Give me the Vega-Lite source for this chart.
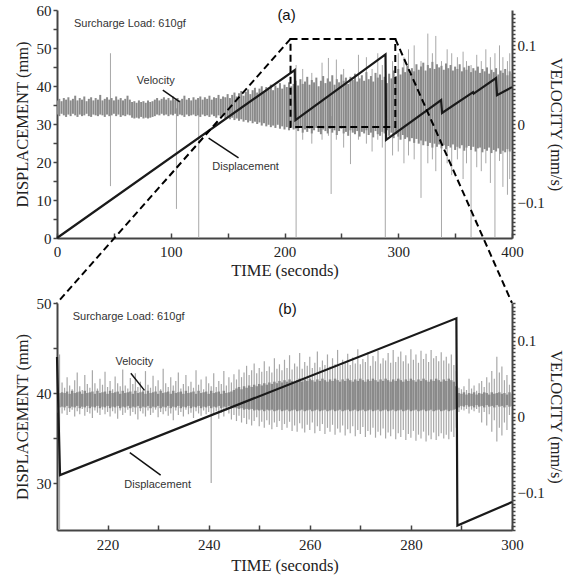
{
"$schema": "https://vega.github.io/schema/vega-lite/v6.json",
"padding": {"left": 14, "top": 3, "right": 4, "bottom": 4},
"bounds": "flush",
"spacing": 65,
"config": {
  "view": {"stroke": null},
  "axis": {"labelFont": "Liberation Serif", "titleFont": "Liberation Serif", "labelFontSize": 15, "titleFontSize": 16.5, "titleFontWeight": "normal", "labelColor": "#222", "titleColor": "#222", "domainColor": "#444", "domainWidth": 2, "tickColor": "#444", "tickWidth": 1.5, "grid": false, "labelOverlap": false, "labelFlush": false}
},
"datasets": {
  "coreA": [
    {"t":0,"hi":0.030,"lo":0.012},{"t":2,"hi":0.032,"lo":0.010},{"t":4,"hi":0.029,"lo":0.013},{"t":6,"hi":0.033,"lo":0.011},{"t":8,"hi":0.031,"lo":0.009},{"t":10,"hi":0.034,"lo":0.012},{"t":12,"hi":0.030,"lo":0.010},{"t":14,"hi":0.032,"lo":0.013},{"t":16,"hi":0.036,"lo":0.011},{"t":18,"hi":0.030,"lo":0.009},
    {"t":20,"hi":0.033,"lo":0.012},{"t":22,"hi":0.031,"lo":0.010},{"t":24,"hi":0.035,"lo":0.011},{"t":26,"hi":0.029,"lo":0.013},{"t":28,"hi":0.032,"lo":0.010},{"t":30,"hi":0.034,"lo":0.009},{"t":32,"hi":0.030,"lo":0.012},{"t":34,"hi":0.033,"lo":0.011},{"t":36,"hi":0.031,"lo":0.010},{"t":38,"hi":0.037,"lo":0.012},
    {"t":40,"hi":0.030,"lo":0.011},{"t":42,"hi":0.032,"lo":0.009},{"t":44,"hi":0.034,"lo":0.012},{"t":46,"hi":0.031,"lo":0.010},{"t":48,"hi":0.033,"lo":0.011},{"t":50,"hi":0.030,"lo":0.013},{"t":52,"hi":0.035,"lo":0.010},{"t":54,"hi":0.031,"lo":0.012},{"t":56,"hi":0.033,"lo":0.009},{"t":58,"hi":0.030,"lo":0.011},
    {"t":60,"hi":0.032,"lo":0.010},{"t":62,"hi":0.036,"lo":0.012},{"t":64,"hi":0.031,"lo":0.011},{"t":66,"hi":0.028,"lo":0.008},{"t":68,"hi":0.029,"lo":0.007},{"t":70,"hi":0.027,"lo":0.008},{"t":72,"hi":0.030,"lo":0.007},{"t":74,"hi":0.028,"lo":0.009},{"t":76,"hi":0.029,"lo":0.007},{"t":78,"hi":0.027,"lo":0.008},
    {"t":80,"hi":0.030,"lo":0.007},{"t":82,"hi":0.028,"lo":0.008},{"t":84,"hi":0.029,"lo":0.009},{"t":86,"hi":0.031,"lo":0.010},{"t":88,"hi":0.033,"lo":0.012},{"t":90,"hi":0.030,"lo":0.011},{"t":92,"hi":0.032,"lo":0.013},{"t":94,"hi":0.034,"lo":0.011},{"t":96,"hi":0.031,"lo":0.012},{"t":98,"hi":0.033,"lo":0.010},
    {"t":100,"hi":0.030,"lo":0.012},{"t":102,"hi":0.035,"lo":0.011},{"t":104,"hi":0.031,"lo":0.013},{"t":106,"hi":0.033,"lo":0.010},{"t":108,"hi":0.030,"lo":0.012},{"t":110,"hi":0.032,"lo":0.011},{"t":112,"hi":0.036,"lo":0.009},{"t":114,"hi":0.031,"lo":0.012},{"t":116,"hi":0.033,"lo":0.010},{"t":118,"hi":0.030,"lo":0.011},
    {"t":120,"hi":0.034,"lo":0.012},{"t":122,"hi":0.031,"lo":0.010},{"t":124,"hi":0.033,"lo":0.011},{"t":126,"hi":0.035,"lo":0.009},{"t":128,"hi":0.031,"lo":0.012},{"t":130,"hi":0.034,"lo":0.010},{"t":132,"hi":0.032,"lo":0.011},{"t":134,"hi":0.036,"lo":0.009},{"t":136,"hi":0.031,"lo":0.012},{"t":138,"hi":0.034,"lo":0.010},
    {"t":140,"hi":0.033,"lo":0.008},{"t":142,"hi":0.037,"lo":0.011},{"t":144,"hi":0.032,"lo":0.009},{"t":146,"hi":0.035,"lo":0.010},{"t":148,"hi":0.034,"lo":0.007},{"t":150,"hi":0.038,"lo":0.009},{"t":152,"hi":0.033,"lo":0.006},{"t":154,"hi":0.037,"lo":0.008},{"t":156,"hi":0.040,"lo":0.005},{"t":158,"hi":0.035,"lo":0.007},
    {"t":160,"hi":0.039,"lo":0.004},{"t":162,"hi":0.042,"lo":0.006},{"t":164,"hi":0.036,"lo":0.003},{"t":166,"hi":0.041,"lo":0.005},{"t":168,"hi":0.044,"lo":0.002},{"t":170,"hi":0.038,"lo":0.004},{"t":172,"hi":0.043,"lo":0.001},{"t":174,"hi":0.046,"lo":0.003},{"t":176,"hi":0.040,"lo":0.000},{"t":178,"hi":0.045,"lo":0.002},
    {"t":180,"hi":0.048,"lo":-0.002},{"t":182,"hi":0.042,"lo":0.001},{"t":184,"hi":0.047,"lo":-0.003},{"t":186,"hi":0.044,"lo":-0.001},{"t":188,"hi":0.050,"lo":-0.004},{"t":190,"hi":0.043,"lo":-0.002},{"t":192,"hi":0.049,"lo":-0.005},{"t":194,"hi":0.046,"lo":-0.001},{"t":196,"hi":0.052,"lo":-0.006},{"t":198,"hi":0.045,"lo":-0.003},
    {"t":200,"hi":0.050,"lo":-0.007},{"t":202,"hi":0.047,"lo":-0.004},{"t":204,"hi":0.053,"lo":-0.008},{"t":206,"hi":0.048,"lo":-0.005},{"t":208,"hi":0.051,"lo":-0.007},{"t":210,"hi":0.055,"lo":-0.006},{"t":212,"hi":0.049,"lo":-0.009},{"t":214,"hi":0.057,"lo":-0.005},{"t":216,"hi":0.051,"lo":-0.011},{"t":218,"hi":0.054,"lo":-0.007},
    {"t":220,"hi":0.060,"lo":-0.010},{"t":222,"hi":0.050,"lo":-0.006},{"t":224,"hi":0.056,"lo":-0.012},{"t":226,"hi":0.053,"lo":-0.008},{"t":228,"hi":0.059,"lo":-0.005},{"t":230,"hi":0.048,"lo":-0.010},{"t":232,"hi":0.055,"lo":-0.013},{"t":234,"hi":0.061,"lo":-0.007},{"t":236,"hi":0.052,"lo":-0.009},{"t":238,"hi":0.058,"lo":-0.012},
    {"t":240,"hi":0.054,"lo":-0.006},{"t":242,"hi":0.062,"lo":-0.011},{"t":244,"hi":0.050,"lo":-0.008},{"t":246,"hi":0.057,"lo":-0.014},{"t":248,"hi":0.053,"lo":-0.009},{"t":250,"hi":0.063,"lo":-0.006},{"t":252,"hi":0.055,"lo":-0.012},{"t":254,"hi":0.059,"lo":-0.010},{"t":256,"hi":0.051,"lo":-0.015},{"t":258,"hi":0.060,"lo":-0.008},
    {"t":260,"hi":0.056,"lo":-0.011},{"t":262,"hi":0.064,"lo":-0.013},{"t":264,"hi":0.054,"lo":-0.009},{"t":266,"hi":0.058,"lo":-0.016},{"t":268,"hi":0.062,"lo":-0.010},{"t":270,"hi":0.055,"lo":-0.012},{"t":272,"hi":0.066,"lo":-0.008},{"t":274,"hi":0.057,"lo":-0.014},{"t":276,"hi":0.061,"lo":-0.011},{"t":278,"hi":0.054,"lo":-0.017},
    {"t":280,"hi":0.065,"lo":-0.009},{"t":282,"hi":0.059,"lo":-0.013},{"t":284,"hi":0.063,"lo":-0.015},{"t":286,"hi":0.056,"lo":-0.010},{"t":288,"hi":0.060,"lo":-0.012},{"t":290,"hi":0.052,"lo":-0.008},{"t":292,"hi":0.064,"lo":-0.015},{"t":294,"hi":0.058,"lo":-0.011},{"t":296,"hi":0.068,"lo":-0.018},{"t":298,"hi":0.061,"lo":-0.013},
    {"t":300,"hi":0.070,"lo":-0.016},{"t":302,"hi":0.063,"lo":-0.020},{"t":304,"hi":0.072,"lo":-0.014},{"t":306,"hi":0.066,"lo":-0.019},{"t":308,"hi":0.074,"lo":-0.017},{"t":310,"hi":0.064,"lo":-0.022},{"t":312,"hi":0.071,"lo":-0.018},{"t":314,"hi":0.067,"lo":-0.024},{"t":316,"hi":0.076,"lo":-0.019},{"t":318,"hi":0.069,"lo":-0.025},
    {"t":320,"hi":0.073,"lo":-0.021},{"t":322,"hi":0.078,"lo":-0.027},{"t":324,"hi":0.068,"lo":-0.022},{"t":326,"hi":0.075,"lo":-0.028},{"t":328,"hi":0.071,"lo":-0.024},{"t":330,"hi":0.079,"lo":-0.030},{"t":332,"hi":0.070,"lo":-0.025},{"t":334,"hi":0.076,"lo":-0.029},{"t":336,"hi":0.072,"lo":-0.026},{"t":338,"hi":0.074,"lo":-0.031},
    {"t":340,"hi":0.069,"lo":-0.027},{"t":342,"hi":0.077,"lo":-0.032},{"t":344,"hi":0.071,"lo":-0.028},{"t":346,"hi":0.075,"lo":-0.030},{"t":348,"hi":0.068,"lo":-0.026},{"t":350,"hi":0.073,"lo":-0.033},{"t":352,"hi":0.070,"lo":-0.029},{"t":354,"hi":0.076,"lo":-0.031},{"t":356,"hi":0.067,"lo":-0.027},{"t":358,"hi":0.072,"lo":-0.034},
    {"t":360,"hi":0.069,"lo":-0.030},{"t":362,"hi":0.074,"lo":-0.028},{"t":364,"hi":0.066,"lo":-0.033},{"t":366,"hi":0.071,"lo":-0.029},{"t":368,"hi":0.068,"lo":-0.035},{"t":370,"hi":0.073,"lo":-0.031},{"t":372,"hi":0.065,"lo":-0.030},{"t":374,"hi":0.070,"lo":-0.036},{"t":376,"hi":0.067,"lo":-0.032},{"t":378,"hi":0.072,"lo":-0.034},
    {"t":380,"hi":0.064,"lo":-0.030},{"t":382,"hi":0.069,"lo":-0.037},{"t":384,"hi":0.066,"lo":-0.033},{"t":386,"hi":0.071,"lo":-0.035},{"t":388,"hi":0.063,"lo":-0.031},{"t":390,"hi":0.068,"lo":-0.038},{"t":392,"hi":0.065,"lo":-0.034},{"t":394,"hi":0.070,"lo":-0.036},{"t":396,"hi":0.062,"lo":-0.032},{"t":398,"hi":0.067,"lo":-0.035},
    {"t":400,"hi":0.064,"lo":-0.033}
  ],
  "spikesA": [
    {"t":47,"lo":-0.079,"hi":0.090},{"t":105,"lo":-0.108,"hi":0.020},{"t":124.6,"lo":-0.145,"hi":0.020},{"t":210.2,"lo":-0.145,"hi":0.075},{"t":216,"lo":-0.020,"hi":0.070},{"t":224,"lo":-0.025,"hi":0.065},{"t":233,"lo":-0.020,"hi":0.078},{"t":238.6,"lo":-0.015,"hi":0.084},{"t":241,"lo":-0.089,"hi":0.010},{"t":245.6,"lo":-0.020,"hi":0.082},
    {"t":252,"lo":-0.030,"hi":0.070},{"t":258,"lo":-0.051,"hi":0.000},{"t":265,"lo":-0.020,"hi":0.088},{"t":272,"lo":-0.025,"hi":0.085},{"t":277,"lo":-0.035,"hi":0.070},{"t":282,"lo":-0.020,"hi":0.090},{"t":286,"lo":-0.030,"hi":0.075},{"t":288.6,"lo":-0.145,"hi":0.060},{"t":295,"lo":-0.040,"hi":0.080},{"t":300,"lo":-0.035,"hi":0.090},
    {"t":305,"lo":-0.050,"hi":0.085},{"t":309,"lo":-0.040,"hi":0.095},{"t":314,"lo":-0.045,"hi":0.100},{"t":320,"lo":-0.094,"hi":0.080},{"t":326,"lo":-0.050,"hi":0.115},{"t":330,"lo":-0.045,"hi":0.090},{"t":333,"lo":-0.060,"hi":0.112},{"t":338,"lo":-0.145,"hi":0.080},{"t":343,"lo":-0.050,"hi":0.095},{"t":347,"lo":-0.065,"hi":0.090},
    {"t":352,"lo":-0.045,"hi":0.085},{"t":357,"lo":-0.070,"hi":0.092},{"t":360,"lo":-0.050,"hi":0.080},{"t":364,"lo":-0.145,"hi":0.075},{"t":369,"lo":-0.055,"hi":0.088},{"t":373,"lo":-0.060,"hi":0.080},{"t":377,"lo":-0.050,"hi":0.095},{"t":381,"lo":-0.075,"hi":0.085},{"t":385,"lo":-0.145,"hi":0.090},{"t":389,"lo":-0.047,"hi":0.100},
    {"t":392,"lo":-0.080,"hi":0.085},{"t":396,"lo":-0.090,"hi":0.080},{"t":398,"lo":-0.070,"hi":0.090}
  ],
  "velB": [
    {"t":210.0,"lo":0.014,"hi":0.030,"plo":0.005,"phi":0.040},{"t":210.5,"lo":0.012,"hi":0.031,"plo":-0.150,"phi":0.082},{"t":211.0,"lo":0.013,"hi":0.032,"plo":0.004,"phi":0.045},{"t":211.5,"lo":0.012,"hi":0.031,"plo":0.008,"phi":0.038},{"t":212.0,"lo":0.014,"hi":0.033,"plo":0.002,"phi":0.052},
    {"t":212.5,"lo":0.011,"hi":0.030,"plo":0.006,"phi":0.041},{"t":213.0,"lo":0.013,"hi":0.034,"plo":0.009,"phi":0.036},{"t":213.5,"lo":0.012,"hi":0.031,"plo":0.000,"phi":0.048},{"t":214.0,"lo":0.014,"hi":0.032,"plo":0.007,"phi":0.058},{"t":214.5,"lo":0.011,"hi":0.033,"plo":0.003,"phi":0.040},
    {"t":215.0,"lo":0.013,"hi":0.030,"plo":0.010,"phi":0.035},{"t":215.5,"lo":0.012,"hi":0.034,"plo":0.001,"phi":0.055},{"t":216.0,"lo":0.014,"hi":0.031,"plo":0.006,"phi":0.043},{"t":216.5,"lo":0.011,"hi":0.032,"plo":0.004,"phi":0.038},{"t":217.0,"lo":0.013,"hi":0.033,"plo":-0.002,"phi":0.061},
    {"t":217.5,"lo":0.012,"hi":0.030,"plo":0.008,"phi":0.044},{"t":218.0,"lo":0.014,"hi":0.034,"plo":0.005,"phi":0.037},{"t":218.5,"lo":0.011,"hi":0.031,"plo":0.002,"phi":0.050},{"t":219.0,"lo":0.013,"hi":0.032,"plo":0.009,"phi":0.042},{"t":219.5,"lo":0.012,"hi":0.033,"plo":0.003,"phi":0.059},
    {"t":220.0,"lo":0.014,"hi":0.030,"plo":0.006,"phi":0.039},{"t":220.5,"lo":0.011,"hi":0.034,"plo":0.000,"phi":0.047},{"t":221.0,"lo":0.013,"hi":0.031,"plo":0.007,"phi":0.036},{"t":221.5,"lo":0.012,"hi":0.032,"plo":0.004,"phi":0.053},{"t":222.0,"lo":0.014,"hi":0.033,"plo":-0.003,"phi":0.044},
    {"t":222.5,"lo":0.011,"hi":0.030,"plo":0.008,"phi":0.040},{"t":223.0,"lo":0.013,"hi":0.034,"plo":0.002,"phi":0.062},{"t":223.5,"lo":0.012,"hi":0.031,"plo":0.005,"phi":0.041},{"t":224.0,"lo":0.014,"hi":0.032,"plo":0.009,"phi":0.037},{"t":224.5,"lo":0.011,"hi":0.033,"plo":0.001,"phi":0.051},
    {"t":225.0,"lo":0.013,"hi":0.030,"plo":0.006,"phi":0.043},{"t":225.5,"lo":0.012,"hi":0.034,"plo":0.003,"phi":0.057},{"t":226.0,"lo":0.014,"hi":0.031,"plo":-0.004,"phi":0.039},{"t":226.5,"lo":0.011,"hi":0.032,"plo":0.007,"phi":0.046},{"t":227.0,"lo":0.013,"hi":0.033,"plo":0.004,"phi":0.035},
    {"t":227.5,"lo":0.012,"hi":0.030,"plo":0.000,"phi":0.060},{"t":228.0,"lo":0.014,"hi":0.034,"plo":0.008,"phi":0.042},{"t":228.5,"lo":0.011,"hi":0.031,"plo":0.002,"phi":0.038},{"t":229.0,"lo":0.013,"hi":0.032,"plo":0.005,"phi":0.054},{"t":229.5,"lo":0.012,"hi":0.033,"plo":0.009,"phi":0.040},
    {"t":230.0,"lo":0.014,"hi":0.030,"plo":-0.001,"phi":0.048},{"t":230.5,"lo":0.011,"hi":0.034,"plo":0.006,"phi":0.036},{"t":231.0,"lo":0.013,"hi":0.031,"plo":0.003,"phi":0.063},{"t":231.5,"lo":0.012,"hi":0.032,"plo":0.007,"phi":0.044},{"t":232.0,"lo":0.014,"hi":0.033,"plo":0.001,"phi":0.039},
    {"t":232.5,"lo":0.011,"hi":0.030,"plo":0.004,"phi":0.052},{"t":233.0,"lo":0.013,"hi":0.034,"plo":-0.005,"phi":0.041},{"t":233.5,"lo":0.012,"hi":0.031,"plo":0.008,"phi":0.047},{"t":234.0,"lo":0.014,"hi":0.032,"plo":0.002,"phi":0.058},{"t":234.5,"lo":0.011,"hi":0.033,"plo":0.006,"phi":0.037},
    {"t":235.0,"lo":0.013,"hi":0.030,"plo":0.000,"phi":0.043},{"t":235.5,"lo":0.012,"hi":0.034,"plo":0.009,"phi":0.055},{"t":236.0,"lo":0.014,"hi":0.031,"plo":0.003,"phi":0.040},{"t":236.5,"lo":0.011,"hi":0.032,"plo":0.005,"phi":0.046},{"t":237.0,"lo":0.013,"hi":0.033,"plo":-0.002,"phi":0.038},
    {"t":237.5,"lo":0.012,"hi":0.030,"plo":0.007,"phi":0.061},{"t":238.0,"lo":0.014,"hi":0.034,"plo":0.004,"phi":0.042},{"t":238.5,"lo":0.011,"hi":0.031,"plo":0.001,"phi":0.049},{"t":239.0,"lo":0.013,"hi":0.032,"plo":0.008,"phi":0.036},{"t":239.5,"lo":0.012,"hi":0.033,"plo":0.003,"phi":0.053},
    {"t":240.0,"lo":0.014,"hi":0.030,"plo":0.006,"phi":0.044},{"t":240.5,"lo":0.011,"hi":0.034,"plo":-0.088,"phi":0.040},{"t":241.0,"lo":0.013,"hi":0.031,"plo":0.002,"phi":0.057},{"t":241.5,"lo":0.012,"hi":0.032,"plo":0.007,"phi":0.039},{"t":242.0,"lo":0.014,"hi":0.033,"plo":-0.003,"phi":0.047},
    {"t":242.5,"lo":0.011,"hi":0.030,"plo":0.005,"phi":0.043},{"t":243.0,"lo":0.013,"hi":0.034,"plo":0.000,"phi":0.060},{"t":243.5,"lo":0.012,"hi":0.031,"plo":0.008,"phi":0.041},{"t":244.0,"lo":0.014,"hi":0.032,"plo":0.004,"phi":0.052},{"t":244.5,"lo":0.011,"hi":0.033,"plo":-0.004,"phi":0.045},
    {"t":245.0,"lo":0.012,"hi":0.035,"plo":0.002,"phi":0.056},{"t":245.5,"lo":0.011,"hi":0.037,"plo":-0.006,"phi":0.049},{"t":246.0,"lo":0.010,"hi":0.039,"plo":0.001,"phi":0.062},{"t":246.5,"lo":0.011,"hi":0.036,"plo":-0.008,"phi":0.052},{"t":247.0,"lo":0.009,"hi":0.040,"plo":-0.002,"phi":0.058},
    {"t":247.5,"lo":0.010,"hi":0.038,"plo":-0.010,"phi":0.067},{"t":248.0,"lo":0.009,"hi":0.041,"plo":-0.004,"phi":0.055},{"t":248.5,"lo":0.010,"hi":0.039,"plo":-0.012,"phi":0.061},{"t":249.0,"lo":0.008,"hi":0.042,"plo":-0.006,"phi":0.070},{"t":249.5,"lo":0.009,"hi":0.040,"plo":-0.001,"phi":0.057},
    {"t":250.0,"lo":0.008,"hi":0.043,"plo":-0.013,"phi":0.064},{"t":250.5,"lo":0.009,"hi":0.041,"plo":-0.007,"phi":0.059},{"t":251.0,"lo":0.007,"hi":0.044,"plo":-0.015,"phi":0.073},{"t":251.5,"lo":0.009,"hi":0.042,"plo":-0.005,"phi":0.060},{"t":252.0,"lo":0.008,"hi":0.045,"plo":-0.011,"phi":0.066},
    {"t":252.5,"lo":0.009,"hi":0.043,"plo":-0.017,"phi":0.058},{"t":253.0,"lo":0.007,"hi":0.046,"plo":-0.008,"phi":0.077},{"t":253.5,"lo":0.008,"hi":0.044,"plo":-0.014,"phi":0.063},{"t":254.0,"lo":0.009,"hi":0.047,"plo":-0.006,"phi":0.069},{"t":254.5,"lo":0.007,"hi":0.045,"plo":-0.018,"phi":0.061},
    {"t":255.0,"lo":0.008,"hi":0.048,"plo":-0.010,"phi":0.075},{"t":255.5,"lo":0.009,"hi":0.046,"plo":-0.015,"phi":0.064},{"t":256.0,"lo":0.007,"hi":0.049,"plo":-0.007,"phi":0.081},{"t":256.5,"lo":0.008,"hi":0.047,"plo":-0.019,"phi":0.062},{"t":257.0,"lo":0.009,"hi":0.045,"plo":-0.012,"phi":0.070},
    {"t":257.5,"lo":0.007,"hi":0.048,"plo":-0.020,"phi":0.066},{"t":258.0,"lo":0.008,"hi":0.050,"plo":-0.009,"phi":0.084},{"t":258.5,"lo":0.009,"hi":0.046,"plo":-0.016,"phi":0.063},{"t":259.0,"lo":0.007,"hi":0.049,"plo":-0.021,"phi":0.072},{"t":259.5,"lo":0.008,"hi":0.047,"plo":-0.011,"phi":0.067},
    {"t":260.0,"lo":0.009,"hi":0.050,"plo":-0.018,"phi":0.079},{"t":260.5,"lo":0.007,"hi":0.048,"plo":-0.008,"phi":0.064},{"t":261.0,"lo":0.008,"hi":0.046,"plo":-0.022,"phi":0.071},{"t":261.5,"lo":0.009,"hi":0.049,"plo":-0.013,"phi":0.086},{"t":262.0,"lo":0.007,"hi":0.047,"plo":-0.019,"phi":0.065},
    {"t":262.5,"lo":0.008,"hi":0.050,"plo":-0.010,"phi":0.074},{"t":263.0,"lo":0.009,"hi":0.048,"plo":-0.023,"phi":0.068},{"t":263.5,"lo":0.007,"hi":0.046,"plo":-0.015,"phi":0.082},{"t":264.0,"lo":0.008,"hi":0.049,"plo":-0.020,"phi":0.066},{"t":264.5,"lo":0.009,"hi":0.047,"plo":-0.011,"phi":0.077},
    {"t":265.0,"lo":0.007,"hi":0.050,"plo":-0.024,"phi":0.069},{"t":265.5,"lo":0.008,"hi":0.048,"plo":-0.016,"phi":0.088},{"t":266.0,"lo":0.009,"hi":0.046,"plo":-0.021,"phi":0.067},{"t":266.5,"lo":0.007,"hi":0.049,"plo":-0.012,"phi":0.075},{"t":267.0,"lo":0.008,"hi":0.047,"plo":-0.025,"phi":0.071},
    {"t":267.5,"lo":0.009,"hi":0.050,"plo":-0.017,"phi":0.083},{"t":268.0,"lo":0.007,"hi":0.048,"plo":-0.022,"phi":0.068},{"t":268.5,"lo":0.008,"hi":0.046,"plo":-0.013,"phi":0.078},{"t":269.0,"lo":0.009,"hi":0.049,"plo":-0.026,"phi":0.070},{"t":269.5,"lo":0.007,"hi":0.047,"plo":-0.018,"phi":0.089},
    {"t":270.0,"lo":0.008,"hi":0.050,"plo":-0.023,"phi":0.069},{"t":270.5,"lo":0.009,"hi":0.048,"plo":-0.014,"phi":0.076},{"t":271.0,"lo":0.007,"hi":0.046,"plo":-0.027,"phi":0.072},{"t":271.5,"lo":0.008,"hi":0.049,"plo":-0.019,"phi":0.085},{"t":272.0,"lo":0.009,"hi":0.047,"plo":-0.024,"phi":0.067},
    {"t":272.5,"lo":0.007,"hi":0.050,"plo":-0.015,"phi":0.080},{"t":273.0,"lo":0.008,"hi":0.048,"plo":-0.028,"phi":0.073},{"t":273.5,"lo":0.009,"hi":0.046,"plo":-0.020,"phi":0.087},{"t":274.0,"lo":0.007,"hi":0.049,"plo":-0.025,"phi":0.070},{"t":274.5,"lo":0.008,"hi":0.047,"plo":-0.016,"phi":0.077},
    {"t":275.0,"lo":0.009,"hi":0.050,"plo":-0.029,"phi":0.074},{"t":275.5,"lo":0.007,"hi":0.048,"plo":-0.021,"phi":0.084},{"t":276.0,"lo":0.008,"hi":0.046,"plo":-0.026,"phi":0.071},{"t":276.5,"lo":0.009,"hi":0.049,"plo":-0.017,"phi":0.088},{"t":277.0,"lo":0.007,"hi":0.047,"plo":-0.030,"phi":0.072},
    {"t":277.5,"lo":0.008,"hi":0.050,"plo":-0.022,"phi":0.079},{"t":278.0,"lo":0.009,"hi":0.048,"plo":-0.027,"phi":0.086},{"t":278.5,"lo":0.007,"hi":0.046,"plo":-0.018,"phi":0.073},{"t":279.0,"lo":0.008,"hi":0.049,"plo":-0.031,"phi":0.081},{"t":279.5,"lo":0.009,"hi":0.047,"plo":-0.023,"phi":0.070},
    {"t":280.0,"lo":0.007,"hi":0.050,"plo":-0.028,"phi":0.089},{"t":280.5,"lo":0.008,"hi":0.048,"plo":-0.019,"phi":0.075},{"t":281.0,"lo":0.009,"hi":0.046,"plo":-0.032,"phi":0.082},{"t":281.5,"lo":0.007,"hi":0.049,"plo":-0.024,"phi":0.071},{"t":282.0,"lo":0.008,"hi":0.047,"plo":-0.029,"phi":0.087},
    {"t":282.5,"lo":0.009,"hi":0.050,"plo":-0.020,"phi":0.076},{"t":283.0,"lo":0.007,"hi":0.048,"plo":-0.033,"phi":0.083},{"t":283.5,"lo":0.008,"hi":0.046,"plo":-0.025,"phi":0.072},{"t":284.0,"lo":0.009,"hi":0.049,"plo":-0.030,"phi":0.088},{"t":284.5,"lo":0.007,"hi":0.047,"plo":-0.021,"phi":0.077},
    {"t":285.0,"lo":0.008,"hi":0.050,"plo":-0.031,"phi":0.080},{"t":285.5,"lo":0.009,"hi":0.048,"plo":-0.026,"phi":0.073},{"t":286.0,"lo":0.007,"hi":0.046,"plo":-0.022,"phi":0.085},{"t":286.5,"lo":0.008,"hi":0.049,"plo":-0.029,"phi":0.074},{"t":287.0,"lo":0.009,"hi":0.047,"plo":-0.024,"phi":0.079},
    {"t":287.5,"lo":0.007,"hi":0.050,"plo":-0.030,"phi":0.070},{"t":288.0,"lo":0.008,"hi":0.048,"plo":-0.020,"phi":0.082},{"t":288.5,"lo":0.009,"hi":0.046,"plo":-0.027,"phi":0.068},{"t":289.0,"lo":0.010,"hi":0.040,"plo":-0.015,"phi":0.060},{"t":289.5,"lo":0.012,"hi":0.031,"plo":0.006,"phi":0.038},
    {"t":290.0,"lo":0.014,"hi":0.030,"plo":0.009,"phi":0.036},{"t":290.5,"lo":0.013,"hi":0.032,"plo":0.008,"phi":0.040},{"t":291.0,"lo":0.015,"hi":0.029,"plo":0.010,"phi":0.035},{"t":291.5,"lo":0.013,"hi":0.031,"plo":0.004,"phi":0.050},{"t":292.0,"lo":0.014,"hi":0.030,"plo":0.009,"phi":0.037},
    {"t":292.5,"lo":0.012,"hi":0.032,"plo":0.007,"phi":0.041},{"t":293.0,"lo":0.015,"hi":0.029,"plo":0.010,"phi":0.034},{"t":293.5,"lo":0.013,"hi":0.031,"plo":0.005,"phi":0.044},{"t":294.0,"lo":0.014,"hi":0.030,"plo":-0.008,"phi":0.047},{"t":294.5,"lo":0.012,"hi":0.032,"plo":0.006,"phi":0.039},
    {"t":295.0,"lo":0.015,"hi":0.031,"plo":-0.012,"phi":0.052},{"t":295.5,"lo":0.013,"hi":0.029,"plo":0.003,"phi":0.045},{"t":296.0,"lo":0.014,"hi":0.032,"plo":-0.020,"phi":0.060},{"t":296.5,"lo":0.012,"hi":0.030,"plo":-0.005,"phi":0.050},{"t":297.0,"lo":0.015,"hi":0.031,"plo":-0.033,"phi":0.079},
    {"t":297.5,"lo":0.013,"hi":0.032,"plo":-0.015,"phi":0.058},{"t":298.0,"lo":0.014,"hi":0.030,"plo":-0.025,"phi":0.066},{"t":298.5,"lo":0.012,"hi":0.031,"plo":-0.008,"phi":0.048},{"t":299.0,"lo":0.015,"hi":0.029,"plo":-0.018,"phi":0.055},{"t":299.5,"lo":0.013,"hi":0.032,"plo":0.002,"phi":0.042},
    {"t":300.0,"lo":0.014,"hi":0.030,"plo":0.005,"phi":0.040}
  ],
  "dispA": [
    {"t":0,"d":0},{"t":209,"d":44.2},{"t":209.6,"d":31.0},{"t":288.8,"d":48.3},{"t":289.3,"d":25.8},{"t":337.7,"d":36.3},{"t":338.5,"d":32.9},{"t":365.8,"d":38.4},{"t":366.3,"d":38.0},{"t":386,"d":42.1},{"t":386.8,"d":37.6},{"t":400,"d":39.7}
  ],
  "dispB": [
    {"t":210,"d":44.0},{"t":210.6,"d":30.9},{"t":289.0,"d":48.3},{"t":289.2,"d":25.3},{"t":300,"d":27.9}
  ]
},
"vconcat": [
  {
    "width": 455, "height": 228,
    "encoding": {
      "x": {"field": "t", "type": "quantitative", "scale": {"domain": [0, 400]},
            "axis": {"title": "TIME (seconds)", "values": [0,50,100,150,200,250,300,350,400], "labelExpr": "datum.value % 100 == 0 ? datum.label : ''", "tickSize": -5, "labelPadding": 11, "titlePadding": 3}}
    },
    "layer": [
      {
        "data": {"name": "spikesA"},
        "mark": {"type": "rule", "color": "#a8a8a8", "strokeWidth": 1, "clip": true},
        "encoding": {
          "y": {"field": "lo", "type": "quantitative", "scale": {"domain": [-0.145, 0.145]}, "axis": null},
          "y2": {"field": "hi"}
        }
      },
      {
        "data": {"name": "coreA"},
        "mark": {"type": "rule", "color": "#8a8a8a", "strokeWidth": 2.0, "clip": true},
        "encoding": {
          "y": {"field": "lo", "type": "quantitative", "scale": {"domain": [-0.145, 0.145]},
                "axis": {"orient": "right", "title": "VELOCITY (mm/s)", "titlePadding": 3, "tickSize": 3, "labelPadding": 2,
                         "values": [-0.14,-0.135,-0.13,-0.125,-0.12,-0.115,-0.11,-0.105,-0.1,-0.095,-0.09,-0.085,-0.08,-0.075,-0.07,-0.065,-0.06,-0.055,-0.05,-0.045,-0.04,-0.035,-0.03,-0.025,-0.02,-0.015,-0.01,-0.005,0,0.005,0.01,0.015,0.02,0.025,0.03,0.035,0.04,0.045,0.05,0.055,0.06,0.065,0.07,0.075,0.08,0.085,0.09,0.095,0.1,0.105,0.11,0.115,0.12,0.125,0.13,0.135,0.14],
                         "labelExpr": "datum.value == 0 ? '0' : (datum.value == 0.1 ? '0.1' : (datum.value == -0.1 ? '−0.1' : ''))"}},
          "y2": {"field": "hi"}
        }
      },
      {
        "data": {"name": "dispA"},
        "mark": {"type": "line", "color": "#1a1a1a", "strokeWidth": 2.2},
        "encoding": {
          "y": {"field": "d", "type": "quantitative", "scale": {"domain": [0, 60]},
                "axis": {"orient": "left", "title": "DISPLACEMENT (mm)", "values": [0,5,10,15,20,25,30,35,40,45,50,55,60], "labelExpr": "datum.value % 10 == 0 ? datum.label : ''", "tickSize": 4, "labelPadding": 2, "titlePadding": 6}}
        }
      },
      {
        "data": {"values": [{"t": 205.3, "t2": 297.4, "d1": 29.2, "d2": 52.4}]},
        "mark": {"type": "rect", "filled": false, "stroke": "black", "strokeWidth": 2, "strokeDash": [7, 4]},
        "encoding": {
          "x2": {"field": "t2"},
          "y": {"field": "d1", "type": "quantitative", "scale": {"domain": [0, 60]}, "axis": null},
          "y2": {"field": "d2"}
        }
      },
      {
        "data": {"values": [{"t": 205.3, "d1": 52.4, "t2": 0, "d2": -17.1}, {"t": 297.4, "d1": 52.4, "t2": 400, "d2": -17.1}]},
        "mark": {"type": "rule", "color": "black", "strokeWidth": 2, "strokeDash": [7, 4]},
        "encoding": {
          "x2": {"field": "t2"},
          "y": {"field": "d1", "type": "quantitative", "scale": {"domain": [0, 60]}, "axis": null},
          "y2": {"field": "d2"}
        }
      },
      {
        "data": {"values": [{"t": 93, "d1": 38.9, "t2": 107.9, "d2": 35.8}, {"t": 133.3, "d1": 26.3, "t2": 159.6, "d2": 21.1}]},
        "mark": {"type": "rule", "color": "#111", "strokeWidth": 1.5},
        "encoding": {
          "x2": {"field": "t2"},
          "y": {"field": "d1", "type": "quantitative", "scale": {"domain": [0, 60]}, "axis": null},
          "y2": {"field": "d2"}
        }
      },
      {
        "data": {"values": [{"t": 86.8, "d": 41.3, "label": "Velocity"}, {"t": 165.8, "d": 18.7, "label": "Displacement"}]},
        "mark": {"type": "text", "font": "Liberation Sans", "fontSize": 11, "color": "#333", "align": "center", "baseline": "middle"},
        "encoding": {
          "y": {"field": "d", "type": "quantitative", "scale": {"domain": [0, 60]}, "axis": null},
          "text": {"field": "label"}
        }
      },
      {
        "data": {"values": [{"t": 14.9, "d": 56.2, "label": "Surcharge Load: 610gf"}]},
        "mark": {"type": "text", "font": "Liberation Sans", "fontSize": 11, "color": "#333", "align": "left", "baseline": "middle"},
        "encoding": {
          "y": {"field": "d", "type": "quantitative", "scale": {"domain": [0, 60]}, "axis": null},
          "text": {"field": "label"}
        }
      },
      {
        "data": {"values": [{"t": 201.8, "d": 58.7, "label": "(a)"}]},
        "mark": {"type": "text", "font": "Liberation Sans", "fontSize": 15, "color": "#111", "align": "center", "baseline": "middle"},
        "encoding": {
          "y": {"field": "d", "type": "quantitative", "scale": {"domain": [0, 60]}, "axis": null},
          "text": {"field": "label"}
        }
      }
    ],
    "resolve": {"scale": {"y": "independent"}}
  },
  {
    "width": 455, "height": 227,
    "encoding": {
      "x": {"field": "t", "type": "quantitative", "scale": {"domain": [210, 300]},
            "axis": {"title": "TIME (seconds)", "values": [220,230,240,250,260,270,280,290,300], "labelExpr": "datum.value % 20 == 0 ? datum.label : ''", "tickSize": -5, "labelPadding": 12, "titlePadding": 5}}
    },
    "layer": [
      {
        "data": {"name": "velB"},
        "mark": {"type": "rule", "color": "#a8a8a8", "strokeWidth": 1.2, "clip": true},
        "encoding": {
          "y": {"field": "plo", "type": "quantitative", "scale": {"domain": [-0.15, 0.15]}, "axis": null},
          "y2": {"field": "phi"}
        }
      },
      {
        "data": {"name": "velB"},
        "mark": {"type": "rule", "color": "#8a8a8a", "strokeWidth": 2.4, "clip": true},
        "encoding": {
          "y": {"field": "lo", "type": "quantitative", "scale": {"domain": [-0.15, 0.15]},
                "axis": {"orient": "right", "title": "VELOCITY (mm/s)", "titlePadding": 3, "tickSize": 3, "labelPadding": 2,
                         "values": [-0.15,-0.145,-0.14,-0.135,-0.13,-0.125,-0.12,-0.115,-0.11,-0.105,-0.1,-0.095,-0.09,-0.085,-0.08,-0.075,-0.07,-0.065,-0.06,-0.055,-0.05,-0.045,-0.04,-0.035,-0.03,-0.025,-0.02,-0.015,-0.01,-0.005,0,0.005,0.01,0.015,0.02,0.025,0.03,0.035,0.04,0.045,0.05,0.055,0.06,0.065,0.07,0.075,0.08,0.085,0.09,0.095,0.1,0.105,0.11,0.115,0.12,0.125,0.13,0.135,0.14,0.145,0.15],
                         "labelExpr": "datum.value == 0 ? '0' : (datum.value == 0.1 ? '0.1' : (datum.value == -0.1 ? '−0.1' : ''))"}},
          "y2": {"field": "hi"}
        }
      },
      {
        "data": {"name": "dispB"},
        "mark": {"type": "line", "color": "#1a1a1a", "strokeWidth": 2.2},
        "encoding": {
          "y": {"field": "d", "type": "quantitative", "scale": {"domain": [24.8, 50]},
                "axis": {"orient": "left", "title": "DISPLACEMENT (mm)", "values": [30,35,40,45,50], "labelExpr": "datum.value % 10 == 0 ? datum.label : ''", "tickSize": 4, "labelPadding": 2, "titlePadding": 6}}
        }
      },
      {
        "data": {"values": [{"t": 224.4, "d1": 33.4, "t2": 230.5, "d2": 30.9}, {"t": 224.6, "d1": 42.2, "t2": 227.3, "d2": 40.3}]},
        "mark": {"type": "rule", "color": "#111", "strokeWidth": 1.5},
        "encoding": {
          "x2": {"field": "t2"},
          "y": {"field": "d1", "type": "quantitative", "scale": {"domain": [24.8, 50]}, "axis": null},
          "y2": {"field": "d2"}
        }
      },
      {
        "data": {"values": [{"t": 225.3, "d": 43.5, "label": "Velocity"}, {"t": 229.9, "d": 29.8, "label": "Displacement"}]},
        "mark": {"type": "text", "font": "Liberation Sans", "fontSize": 11, "color": "#333", "align": "center", "baseline": "middle"},
        "encoding": {
          "y": {"field": "d", "type": "quantitative", "scale": {"domain": [24.8, 50]}, "axis": null},
          "text": {"field": "label"}
        }
      },
      {
        "data": {"values": [{"t": 213.1, "d": 48.4, "label": "Surcharge Load: 610gf"}]},
        "mark": {"type": "text", "font": "Liberation Sans", "fontSize": 11, "color": "#333", "align": "left", "baseline": "middle"},
        "encoding": {
          "y": {"field": "d", "type": "quantitative", "scale": {"domain": [24.8, 50]}, "axis": null},
          "text": {"field": "label"}
        }
      },
      {
        "data": {"values": [{"t": 255.6, "d": 49.3, "label": "(b)"}]},
        "mark": {"type": "text", "font": "Liberation Sans", "fontSize": 15, "color": "#111", "align": "center", "baseline": "middle"},
        "encoding": {
          "y": {"field": "d", "type": "quantitative", "scale": {"domain": [24.8, 50]}, "axis": null},
          "text": {"field": "label"}
        }
      }
    ],
    "resolve": {"scale": {"y": "independent"}}
  }
]
}
